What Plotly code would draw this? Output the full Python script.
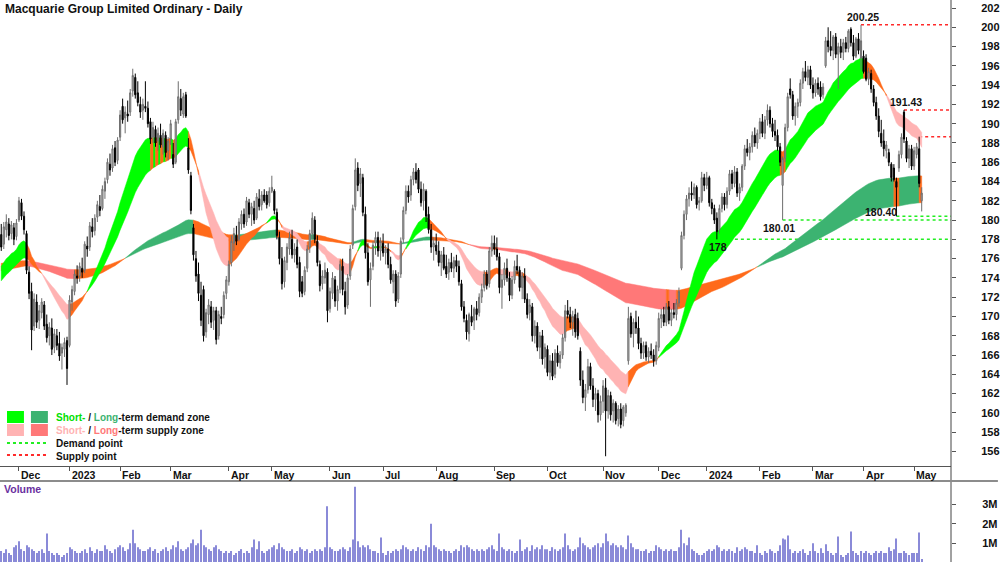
import pandas as pd
import plotly.graph_objects as go

# ---------------------------------------------------------------- data
HOLIDAYS = ["2022-12-26", "2022-12-27", "2023-01-02", "2023-01-26", "2023-04-07",
            "2023-04-10", "2023-04-25", "2023-06-12", "2023-12-25", "2023-12-26",
            "2024-01-01", "2024-01-26", "2024-03-29", "2024-04-01", "2024-04-25"]
DATES = [d for d in pd.bdate_range("2022-11-22", "2024-05-06")
         if d.strftime("%Y-%m-%d") not in HOLIDAYS]

# (open, high, low, close) per trading day
NOV22 = [(178.5,179.6,176.8,177.2),(177.5,179.8,177.0,179.3),(179.0,180.6,178.2,179.8),(179.6,180.2,177.9,178.4),
         (178.6,179.9,178.0,179.5),(179.2,179.7,177.4,178.0),(178.3,180.1,177.9,179.7)]
DEC22 = [(180.0,182.4,179.8,182.0),(181.8,182.2,180.0,180.4),(180.4,180.9,178.5,179.0),(178.6,178.9,174.4,174.8),
         (174.6,175.2,171.8,172.4),(172.6,173.5,166.5,168.6),(169.0,172.4,168.5,171.8),(171.5,172.3,168.8,169.4),
         (169.6,171.2,168.7,170.6),(170.4,171.9,169.8,171.5),(171.2,171.6,168.6,169.0),(169.2,170.2,167.3,167.8),
         (168.0,169.4,167.0,168.9),(168.8,169.8,166.0,166.6),(166.8,168.7,166.2,168.2),(168.0,168.7,166.5,167.0),
         (167.2,168.4,165.4,165.9),(166.2,167.2,164.5,166.8),(166.6,167.8,165.8,167.3),(167.5,167.9,162.9,164.6)]
JAN23 = [(167.0,172.2,166.8,171.7),(171.5,173.2,170.6,172.8),(172.6,174.8,172.2,174.4),(174.2,175.3,173.4,174.0),
         (174.2,175.6,173.6,175.2),(175.0,176.1,174.0,174.6),(174.8,177.8,174.5,177.5),(177.3,178.3,176.2,177.0),
         (177.2,179.8,176.8,179.4),(179.3,180.2,178.2,178.8),(178.9,180.6,178.4,180.2),(180.3,182.0,179.8,181.6),
         (181.4,182.6,180.4,181.0),(181.2,183.6,181.0,183.2),(183.0,184.4,182.2,184.0),(184.2,186.4,183.8,186.0),
         (185.8,186.9,184.6,185.2),(185.4,187.8,185.0,187.4),(187.5,188.2,185.6,186.0),(186.2,188.6,185.8,188.3)]
FEB23 = [(188.6,191.4,188.2,190.9),(191.8,192.6,190.0,190.4),(190.6,191.8,189.0,191.2),(191.0,192.4,190.2,190.8),
         (191.2,193.6,190.8,193.2),(193.4,195.7,192.8,195.0),(194.8,195.2,192.6,193.0),(193.2,194.4,191.8,192.2),
         (192.0,192.8,190.6,191.2),(191.4,192.6,190.4,192.0),(191.8,194.4,191.2,191.6),(191.6,192.3,189.6,190.0),
         (190.2,190.6,187.9,188.4),(188.6,190.2,188.0,189.6),(189.4,189.8,187.6,188.0),(188.2,189.6,187.2,189.0),
         (188.8,190.0,187.5,187.8),(187.6,189.4,186.8,189.0),(188.8,189.2,186.5,187.0),(187.2,188.6,186.2,188.2)]
MAR23 = [(188.4,190.4,187.8,190.0),(186.8,188.0,185.4,185.8),(186.0,190.5,185.8,190.2),(190.4,194.4,190.0,192.8),
         (192.6,193.6,190.8,191.4),(191.0,193.2,190.6,192.8),(193.0,193.3,190.6,190.8),(187.5,188.5,184.8,185.2),
         (184.6,185.0,180.6,181.0),(179.2,179.6,175.8,176.4),(176.0,176.8,173.6,174.2),(174.4,175.6,171.6,172.4),
         (172.2,173.6,169.0,169.6),(172.8,173.2,167.4,168.0),(168.4,170.8,167.8,170.4),(170.2,171.8,169.2,171.2),
         (171.0,171.6,168.8,169.4),(169.6,171.0,168.6,170.6),(170.6,171.0,167.1,167.6),(168.0,170.6,167.6,170.2),
         (170.0,171.0,169.2,169.8),(170.2,172.6,169.8,172.2),(172.4,174.2,171.8,173.8)]
APR23 = [(173.6,175.8,173.2,175.4),(175.6,178.4,175.2,177.8),(177.6,179.2,176.8,178.6),(178.4,179.4,177.4,177.8),
         (178.0,180.2,177.8,179.8),(179.6,181.0,179.0,180.6),(180.6,181.2,179.2,179.6),(179.8,182.4,179.4,182.0),
         (181.8,182.2,180.2,180.6),(180.6,181.8,179.4,181.4),(181.2,182.0,179.6,180.0),(180.2,182.8,180.0,182.4),
         (182.2,183.2,181.0,181.4),(181.6,183.0,181.0,182.6),(182.6,183.2,181.8,182.0),(182.6,183.0,181.2,181.6),
         (181.8,183.4,181.4,183.0)]
MAY23 = [(183.0,184.6,182.8,183.4),(183.0,183.2,180.6,181.0),(180.8,181.2,178.0,178.4),(178.2,178.8,175.4,176.0),
         (176.0,177.2,172.8,173.4),(173.6,176.2,173.0,175.8),(175.6,177.6,174.8,177.2),(177.0,178.8,176.4,178.2),
         (178.0,179.0,176.0,176.4),(176.4,177.6,175.6,177.0),(177.2,178.0,175.0,175.4),(175.6,176.2,172.0,172.6),
         (173.6,174.2,172.0,172.4),(172.6,175.2,172.2,174.8),(175.0,177.4,174.6,177.0),(177.2,179.0,176.6,178.6),
         (178.6,180.8,178.0,180.2),(180.0,180.4,177.6,178.0),(177.8,178.4,175.2,175.6),(175.4,175.8,172.6,173.2),
         (173.4,174.8,172.8,174.2),(174.0,175.6,173.4,174.8),(174.6,175.0,169.4,170.6)]
JUN23 = [(170.8,173.0,170.4,172.6),(172.4,174.6,171.8,174.0),(173.8,174.2,171.0,171.6),(171.6,173.2,170.6,172.8),
         (172.8,175.8,172.4,175.4),(175.2,176.0,172.2,172.8),(172.6,173.6,170.2,171.0),(171.2,174.4,170.8,174.0),
         (174.2,177.4,173.8,177.0),(177.4,181.6,177.0,181.2),(181.4,186.4,181.0,185.2),(185.4,186.0,183.0,183.6),
         (183.8,185.4,182.4,184.8),(184.4,184.8,180.4,180.8),(180.6,181.4,176.0,176.6),(176.6,177.6,173.2,173.6),
         (173.8,175.6,171.0,175.0),(175.2,177.8,174.8,177.4),(177.6,178.8,176.4,178.2),(178.2,178.8,176.2,176.8),
         (176.8,178.2,175.8,177.8)]
JUL23 = [(177.6,178.6,176.2,176.6),(176.6,177.4,175.4,177.0),(177.0,177.6,175.0,175.4),(175.4,176.2,173.4,173.8),
         (173.6,174.8,172.4,174.4),(174.4,174.8,171.0,171.6),(171.8,174.6,171.4,174.2),(174.4,178.2,174.0,177.8),
         (178.0,181.4,177.6,181.0),(181.0,183.6,180.6,183.0),(183.0,183.6,181.8,182.4),(182.6,184.6,182.0,184.2),
         (184.2,185.4,183.6,185.0),(185.0,185.9,183.8,184.2),(185.2,185.4,182.8,183.2),(183.2,184.0,181.4,181.8),
         (182.0,183.8,181.0,183.2),(183.0,183.2,179.8,180.4),(180.6,181.4,178.6,179.0),(179.0,179.6,176.6,177.2),
         (177.2,178.2,175.8,177.6)]
AUG23 = [(177.4,178.6,176.4,176.8),(176.8,177.8,175.2,175.6),(175.6,176.8,174.2,176.4),(176.4,177.2,174.8,175.0),
         (175.2,176.4,174.0,174.4),(174.6,176.0,173.8,175.6),(175.6,176.6,174.6,175.0),(175.0,176.2,174.0,175.8),
         (175.8,176.4,174.6,175.2),(175.2,175.8,173.2,173.6),(173.4,173.8,170.6,171.0),(171.0,171.6,169.4,169.8),
         (169.6,170.2,167.6,168.4),(168.2,170.4,167.4,170.2),(170.0,171.2,169.0,169.4),(169.6,171.0,168.6,170.8),
         (170.8,171.6,169.6,170.2),(170.4,172.4,170.0,172.0),(172.0,173.4,171.4,172.8),(173.0,174.8,172.6,174.4),
         (174.4,174.8,172.8,173.2),(173.4,177.2,173.0,176.8),(176.8,178.4,176.2,177.6)]
SEP23 = [(177.6,178.4,176.4,177.0),(177.0,178.2,175.8,176.2),(176.2,176.6,172.4,173.0),(173.0,174.4,170.8,173.8),
         (173.8,175.6,173.2,175.0),(175.0,176.0,173.6,174.0),(174.0,174.6,171.6,172.2),(172.2,174.2,171.8,173.8),
         (173.8,175.8,173.4,175.2),(175.2,176.4,174.4,174.8),(174.8,175.2,172.6,173.0),(173.0,174.6,171.8,174.2),
         (174.2,175.0,171.4,171.8),(171.8,172.4,169.8,170.2),(170.4,171.8,169.6,171.2),(171.0,171.4,167.4,168.0),
         (168.0,169.6,167.2,169.0),(169.0,169.4,166.4,166.8),(166.8,168.4,165.6,168.0),(168.0,168.6,165.0,165.6),
         (165.8,167.2,164.6,166.8)]
OCT23 = [(166.6,167.0,163.8,164.2),(164.2,166.0,163.4,165.4),(165.4,166.2,163.4,163.8),(164.0,166.6,163.6,166.2),
         (166.2,167.0,164.8,165.2),(165.2,166.4,164.6,166.0),(166.0,168.2,165.6,167.8),(167.8,171.2,167.4,170.6),
         (170.6,171.7,169.8,170.2),(170.2,171.0,168.8,169.4),(169.4,170.6,168.0,170.0),(170.2,170.8,167.8,168.4),
         (169.8,170.4,167.6,168.0),(166.4,166.8,162.8,163.4),(163.4,164.4,161.0,161.6),(161.6,163.0,160.2,162.4),
         (162.4,165.6,162.0,164.8),(164.8,165.2,162.4,162.8),(162.8,163.6,160.6,161.4),(161.4,162.6,160.2,162.0),
         (162.0,162.4,159.0,159.8),(159.8,161.8,159.2,161.2)]
NOV23 = [(161.2,163.4,160.0,162.8),(162.6,163.6,155.5,160.2),(160.2,162.4,159.4,161.8),(161.8,162.2,159.2,159.8),
         (160.2,161.4,159.0,161.0),(161.0,161.2,158.8,159.2),(159.4,160.8,158.6,160.4),(160.4,161.0,158.4,158.8),
         (159.2,160.8,158.6,160.6),(160.0,161.0,159.6,160.8),(165.4,171.0,165.0,169.8),(170.0,170.4,167.8,168.2),
         (168.2,169.8,166.8,169.4),(169.4,170.6,168.2,168.8),(168.8,170.0,166.6,167.2),(167.2,167.8,165.6,166.2),
         (166.2,167.4,165.6,167.0),(167.0,167.4,165.4,165.8),(165.8,166.8,165.2,166.4),(166.4,167.2,165.6,166.0),
         (166.0,166.6,164.8,165.4),(165.4,167.4,165.0,167.0)]
DEC23 = [(166.8,170.4,166.4,169.8),(169.8,170.8,168.8,170.2),(170.2,171.0,169.0,169.4),(169.4,171.4,169.0,171.0),
         (171.0,171.6,169.2,169.6),(169.6,170.8,169.0,170.4),(170.4,171.4,169.8,170.2),(170.2,171.8,169.6,171.4),
         (171.4,173.0,171.0,172.6),(175.0,178.8,174.8,178.4),(178.4,181.0,178.0,180.6),(180.6,182.6,180.0,182.2),
         (182.2,183.4,181.4,182.8),(182.8,184.0,182.0,182.6),(182.6,183.8,182.2,183.4),(183.4,183.6,181.2,181.6),
         (181.8,182.4,181.0,182.0),(182.0,185.0,181.8,184.4),(184.4,184.8,183.0,183.6)]
JAN24 = [(183.6,185.0,183.2,184.4),(184.4,184.6,181.4,181.8),(181.8,182.2,180.6,181.2),(181.2,181.6,179.6,180.0),
         (180.2,180.8,178.0,178.8),(179.0,181.6,178.6,181.2),(181.2,182.8,180.8,182.4),(182.4,182.8,181.0,181.6),
         (181.6,183.4,181.2,183.0),(183.0,185.2,182.6,184.8),(184.8,185.2,183.2,183.8),(183.8,185.6,183.4,185.0),
         (185.0,185.4,182.4,182.8),(182.8,183.8,182.0,183.4),(183.4,185.8,183.0,185.6),(185.6,187.8,185.2,187.4),
         (187.4,188.4,186.6,187.0),(187.0,188.0,186.2,187.6),(187.6,189.2,187.0,188.8),(188.8,189.6,187.6,188.0),
         (188.0,189.4,187.4,189.0)]
FEB24 = [(189.0,190.6,188.4,190.2),(190.2,191.0,188.6,189.0),(189.0,190.8,188.4,190.4),(190.4,192.0,189.8,191.4),
         (191.4,191.8,189.6,190.0),(190.0,190.6,188.6,189.2),(189.2,190.4,188.2,188.8),(188.8,189.4,187.2,187.6),
         (187.6,188.0,185.6,186.0),(183.6,186.6,180.01,186.4),(186.4,190.0,186.0,189.6),(189.6,193.2,189.2,192.8),
         (193.6,194.7,192.6,193.0),(193.0,193.4,190.4,190.8),(190.8,192.2,189.8,191.8),(191.8,192.6,190.6,192.2),
         (192.2,194.6,191.8,194.2),(194.2,195.8,193.6,195.4),(195.4,196.5,194.4,194.8),(194.8,196.0,194.0,195.6),
         (195.6,196.0,193.6,194.0)]
MAR24 = [(194.0,194.8,192.6,193.2),(193.2,194.6,192.8,194.2),(194.2,194.8,193.0,193.6),(193.8,194.4,192.4,192.8),
         (193.0,194.2,192.6,193.8),(196.0,199.0,195.8,198.6),(198.6,200.0,197.4,198.0),(198.0,199.6,197.0,197.6),
         (197.6,199.2,196.6,199.0),(199.0,199.4,196.8,197.2),(197.2,198.4,193.6,198.0),(198.0,198.8,196.8,197.4),
         (197.4,198.8,196.6,198.4),(198.4,199.0,197.4,197.8),(197.8,199.8,197.4,199.6),(199.8,200.0,198.0,198.4),
         (198.4,199.2,196.6,197.0),(197.0,199.0,196.8,198.8),(198.8,199.4,197.2,197.6),(196.8,200.25,195.6,198.6)]
APR24 = [(197.0,197.6,195.2,195.4),(196.8,197.2,194.4,194.6),(194.6,195.8,194.0,195.4),(195.2,195.6,193.2,193.6),
         (193.6,194.0,191.8,192.2),(192.2,192.8,190.4,190.8),(190.8,191.6,188.6,189.2),(189.0,190.4,187.6,188.0),
         (188.2,189.4,186.6,187.4),(187.2,188.2,186.4,187.8),(187.0,187.4,185.6,186.0),(185.8,186.0,184.0,184.4),
         (185.4,185.8,184.0,184.2),(184.0,184.4,180.40,183.4),(185.4,187.2,185.0,186.8),(186.8,189.0,186.4,188.6),
         (191.2,191.43,188.0,188.4),(188.2,188.6,186.0,186.4),(186.4,187.8,185.4,187.4),(187.4,187.8,185.2,185.6)]
MAY24 = [(185.6,187.6,185.2,187.2),(186.8,188.0,186.4,187.6),(187.4,188.65,183.4,183.8),(182.0,183.4,180.9,182.8)]

# volume, millions of shares
VOL_NOV22 = [0.6,0.5,0.7,0.5,0.4,0.8,0.9]
VOL_DEC22 = [1.1,0.7,0.6,0.9,0.8,0.7,0.6,0.5,0.6,0.7,0.5,1.5,0.6,0.5,0.4,0.5,0.4,0.3,0.4,0.5]
VOL_JAN23 = [0.8,0.7,0.6,0.5,0.5,0.6,0.7,0.5,0.8,0.6,0.5,0.7,0.6,0.6,0.9,0.7,0.6,0.5,0.7,0.8]
VOL_FEB23 = [0.9,0.8,0.6,0.7,1.0,1.7,1.0,0.8,0.7,0.6,0.6,0.7,0.8,0.6,0.7,0.5,0.6,0.7,0.8,0.6]
VOL_MAR23 = [0.7,0.9,0.8,1.1,0.7,0.6,0.7,0.8,1.0,1.2,0.9,1.0,1.7,0.9,0.8,0.7,0.6,0.8,0.9,0.7,0.6,0.5,0.6]
VOL_APR23 = [0.5,0.6,0.4,0.5,0.6,0.7,0.5,0.6,0.5,0.8,1.2,0.7,1.1,0.6,0.5,0.6,0.7]
VOL_MAY23 = [0.8,0.9,0.7,1.0,0.8,0.7,0.6,0.6,0.7,0.5,0.6,0.8,0.7,0.6,0.7,0.5,0.6,0.7,0.6,0.7,0.6,0.8,2.9]
VOL_JUN23 = [0.8,0.7,0.6,0.6,0.7,0.8,0.7,0.6,0.8,1.2,3.9,1.1,0.8,0.9,0.8,0.9,0.7,0.6,0.6,0.5,1.3]
VOL_JUL23 = [0.5,0.4,0.6,0.5,0.6,0.7,0.6,0.7,0.9,0.8,0.7,0.6,0.7,0.6,0.8,0.7,0.6,0.9,0.8,2.0,0.9]
VOL_AUG23 = [0.8,0.7,0.6,0.7,0.6,0.6,0.5,0.6,0.7,0.6,0.9,0.8,0.9,0.8,0.7,0.6,0.7,0.6,0.7,0.6,0.7,0.8,0.9]
VOL_SEP23 = [0.7,0.6,1.5,0.8,0.7,0.6,0.7,0.6,0.5,0.6,1.2,0.6,0.7,0.8,0.6,0.9,0.7,0.8,0.7,0.9,0.7]
VOL_OCT23 = [0.7,0.6,0.8,0.7,0.6,0.7,0.8,1.5,0.9,0.7,0.6,0.7,0.8,1.3,1.0,0.9,0.8,0.7,0.8,0.9,1.0,0.8]
VOL_NOV23 = [1.0,1.5,1.1,0.9,1.0,0.9,0.8,0.9,0.8,0.7,1.4,1.0,0.8,0.7,0.7,0.6,0.6,0.7,0.5,0.6,0.6,0.9]
VOL_DEC23 = [0.8,0.7,0.6,0.7,0.6,0.7,0.6,0.6,0.8,1.7,1.0,0.9,1.3,0.7,0.6,0.5,0.4,0.4,0.5]
VOL_JAN24 = [0.6,0.7,0.6,0.7,0.9,0.8,0.6,0.7,0.6,0.7,0.6,0.5,0.8,0.6,0.7,0.8,0.7,0.6,0.6,0.5,0.9]
VOL_FEB24 = [0.5,0.4,0.6,0.5,0.7,0.6,0.5,0.6,0.9,1.25,1.2,1.4,0.7,0.5,0.6,0.5,0.6,0.7,0.5,0.4,0.6]
VOL_MAR24 = [1.0,0.6,0.5,0.75,0.5,0.95,0.6,0.5,0.4,0.5,1.35,0.4,0.3,0.4,0.5,1.6,0.6,0.5,0.4,0.6]
VOL_APR24 = [0.5,0.6,0.5,0.4,0.5,0.6,0.5,0.6,0.5,0.5,0.8,0.6,0.7,1.25,0.5,0.5,0.6,0.5,0.4,0.5]
VOL_MAY24 = [0.5,0.5,1.55,0.2]

MONTH_LABELS = ["Dec", "2023", "Feb", "Mar", "Apr", "May", "Jun", "Jul", "Aug", "Sep",
                "Oct", "Nov", "Dec", "2024", "Feb", "Mar", "Apr", "May"]

# demand / supply points: (date, level, label)
DEMAND_POINTS = [("2024-01-08", 178.00, "178"), ("2024-02-14", 180.01, "180.01"),
                 ("2024-04-19", 180.40, "180.40")]
SUPPLY_POINTS = [("2024-03-28", 200.25, "200.25"), ("2024-04-24", 191.43, "191.43"),
                 ("2024-05-03", 188.65, "")]

SHORT_FAST, SHORT_SLOW = 20, 35
LONG_FAST, LONG_SLOW = 150, 250
SEED_SHORT_FAST, SEED_SHORT_SLOW = 175.0, 173.5
SEED_LONG_FAST, SEED_LONG_SLOW = 174.7, 175.5

# ---------------------------------------------------------------- assemble
CANDLES = (NOV22 + DEC22 + JAN23 + FEB23 + MAR23 + APR23 + MAY23 + JUN23 + JUL23 + AUG23 +
           SEP23 + OCT23 + NOV23 + DEC23 + JAN24 + FEB24 + MAR24 + APR24 + MAY24)
VOLUME = (VOL_NOV22 + VOL_DEC22 + VOL_JAN23 + VOL_FEB23 + VOL_MAR23 + VOL_APR23 + VOL_MAY23 +
          VOL_JUN23 + VOL_JUL23 + VOL_AUG23 + VOL_SEP23 + VOL_OCT23 + VOL_NOV23 + VOL_DEC23 +
          VOL_JAN24 + VOL_FEB24 + VOL_MAR24 + VOL_APR24 + VOL_MAY24)
N = len(DATES)
if len(CANDLES) != N or len(VOLUME) != N:
    raise SystemExit(f"length mismatch dates={N} candles={len(CANDLES)} volume={len(VOLUME)}")

OPEN = [c[0] for c in CANDLES]
HIGH = [c[1] for c in CANDLES]
LOW = [c[2] for c in CANDLES]
CLOSE = [c[3] for c in CANDLES]
IDX = list(range(N))
DATE_POS = {d.strftime("%Y-%m-%d"): i for i, d in enumerate(DATES)}
MONTH_POS = [i for i in range(1, N) if DATES[i].month != DATES[i - 1].month]


def ema(values, period, seed):
    a = 2.0 / (period + 1)
    out, e = [], seed
    for v in values:
        e = e + a * (v - e)
        out.append(e)
    return out


s_fast = ema(CLOSE, SHORT_FAST, SEED_SHORT_FAST)
s_slow = ema(CLOSE, SHORT_SLOW, SEED_SHORT_SLOW)
l_fast = ema(CLOSE, LONG_FAST, SEED_LONG_FAST)
l_slow = ema(CLOSE, LONG_SLOW, SEED_LONG_SLOW)

ORANGE = "#ff6a1a"
SHORT_COLORS = {"D": "#00ff00", "S": "#ffb3b3", "O": ORANGE}
LONG_COLORS = {"D": "#3cb371", "S": "#ff7878", "O": ORANGE}


def band_traces(fast, slow, seed_fast, colors):
    states = []
    for i in range(N):
        prev = fast[i - 1] if i > 0 else seed_fast
        rising = fast[i] > prev
        if fast[i] > slow[i] and rising:
            states.append("D")
        elif fast[i] < slow[i] and not rising:
            states.append("S")
        else:
            states.append("O")
    runs, start = [], 0
    for i in range(1, N + 1):
        if i == N or states[i] != states[start]:
            runs.append((start, i - 1, states[start]))
            start = i
    polys = {k: ([], []) for k in colors}
    for a, b, st in runs:
        e = min(b + 1, N - 1)
        xs = IDX[a:e + 1] + IDX[a:e + 1][::-1]
        ys = fast[a:e + 1] + slow[a:e + 1][::-1]
        px_, py_ = polys[st]
        px_.extend(xs + [xs[0], None])
        py_.extend(ys + [ys[0], None])
    out = []
    for k, (px_, py_) in polys.items():
        if px_:
            out.append(go.Scatter(x=px_, y=py_, mode="lines", fill="toself", fillcolor=colors[k],
                                  line=dict(color=colors[k], width=0.5), hoverinfo="skip",
                                  xaxis="x", yaxis="y"))
    return out


# ---------------------------------------------------------------- figure
FONT = "Liberation Sans Narrow, Arial Narrow, Liberation Sans, Arial, sans-serif"
W, H, PLOT_W = 1000, 562, 953
X0 = -0.497
X1 = X0 + PLOT_W / 2.534
PRICE_RANGE = [154.49, 202.83]
VOL_RANGE = [0.04, 4.195]
PRICE_DOM = [(H - 466) / H, 1.0]
VOL_DOM = [0.0, (H - 481) / H]


def px(x):
    return x / PLOT_W


def py(y):
    return 1 - y / H


fig = go.Figure()

# demand / supply point lines (below the zones)
for d, lvl, _ in DEMAND_POINTS:
    fig.add_trace(go.Scatter(x=[DATE_POS[d], X1], y=[lvl, lvl], mode="lines", hoverinfo="skip",
                             line=dict(color="#22ee22", width=1.5, dash="dot"), xaxis="x", yaxis="y"))
for d, lvl, _ in SUPPLY_POINTS:
    fig.add_trace(go.Scatter(x=[DATE_POS[d], X1], y=[lvl, lvl], mode="lines", hoverinfo="skip",
                             line=dict(color="#ff2a2a", width=1.5, dash="dot"), xaxis="x", yaxis="y"))

for t in band_traces(l_fast, l_slow, SEED_LONG_FAST, LONG_COLORS):
    fig.add_trace(t)
for t in band_traces(s_fast, s_slow, SEED_SHORT_FAST, SHORT_COLORS):
    fig.add_trace(t)

fig.add_trace(go.Candlestick(
    x=IDX, open=OPEN, high=HIGH, low=LOW, close=CLOSE, xaxis="x", yaxis="y3",
    increasing=dict(line=dict(color="#6e6e6e", width=1), fillcolor="#c4c4c4"),
    decreasing=dict(line=dict(color="#000000", width=1), fillcolor="#000000"),
    whiskerwidth=0, hoverinfo="skip"))

fig.add_trace(go.Bar(x=IDX, y=VOLUME, marker=dict(color="#8a8ad8", line=dict(width=0)),
                     width=0.42, xaxis="x2", yaxis="y2", hoverinfo="skip"))

annotations = [
    dict(text="<b>Macquarie Group Limited Ordinary - Daily</b>", xref="paper", yref="paper",
         x=px(3), y=py(9), xanchor="left", yanchor="middle", showarrow=False,
         font=dict(family=FONT, size=12, color="#111")),
    dict(text="<b>Volume</b>", xref="paper", yref="paper", x=px(2), y=py(489),
         xanchor="left", yanchor="middle", showarrow=False,
         font=dict(family=FONT, size=10.5, color="#6a2fa0")),
]
for lab, pos in zip(MONTH_LABELS, MONTH_POS):
    annotations.append(dict(text=f"<b>{lab}</b>", xref="x", yref="paper", x=pos, y=py(475),
                            xanchor="left", yanchor="middle", showarrow=False, xshift=0,
                            font=dict(family=FONT, size=10.5, color="#111")))

# point labels
lab_font = dict(family=FONT, size=10.5, color="#111")
sup = {lab: (DATE_POS[d], lvl) for d, lvl, lab in SUPPLY_POINTS if lab}
dem = {lab: (DATE_POS[d], lvl) for d, lvl, lab in DEMAND_POINTS}
for lab, (i, lvl) in sup.items():
    annotations.append(dict(text=f"<b>{lab}</b>", x=i, y=lvl, xref="x", yref="y", showarrow=False,
                            xanchor="center", yanchor="bottom", yshift=0, xshift=2, font=lab_font))
annotations.append(dict(text="<b>178</b>", x=dem["178"][0], y=dem["178"][1], xref="x", yref="y",
                        showarrow=False, xanchor="center", yanchor="top", xshift=1, font=lab_font))
annotations.append(dict(text="<b>180.01</b>", x=dem["180.01"][0], y=dem["180.01"][1], xref="x",
                        yref="y", showarrow=False, xanchor="center", yanchor="top", xshift=-4,
                        font=lab_font))
annotations.append(dict(text="<b>180.40</b>", x=dem["180.40"][0], y=dem["180.40"][1], xref="x",
                        yref="y", showarrow=False, xanchor="right", yanchor="bottom", xshift=3,
                        yshift=-4, font=lab_font))

# legend
leg_font = dict(family=FONT, size=10, color="#111")
leg_rows = [
    ("<b><span style='color:#00e000'>Short-</span> / <span style='color:#3cb371'>Long</span>"
     "-term demand zone</b>", 417),
    ("<b><span style='color:#ffb3b3'>Short-</span> / <span style='color:#ff7878'>Long</span>"
     "-term supply zone</b>", 430),
    ("<b>Demand point</b>", 443),
    ("<b>Supply point</b>", 456),
]
for txt, yy in leg_rows:
    annotations.append(dict(text=txt, xref="paper", yref="paper", x=px(54), y=py(yy),
                            xanchor="left", yanchor="middle", showarrow=False, font=leg_font))

shapes = [
    dict(type="rect", xref="paper", yref="paper", x0=px(7), x1=px(24), y0=py(423), y1=py(411),
         fillcolor="#00ff00", line=dict(width=0)),
    dict(type="rect", xref="paper", yref="paper", x0=px(31), x1=px(48), y0=py(423), y1=py(411),
         fillcolor="#3cb371", line=dict(width=0)),
    dict(type="rect", xref="paper", yref="paper", x0=px(7), x1=px(24), y0=py(436), y1=py(424),
         fillcolor="#ffb3b3", line=dict(width=0)),
    dict(type="rect", xref="paper", yref="paper", x0=px(31), x1=px(48), y0=py(436), y1=py(424),
         fillcolor="#ff7878", line=dict(width=0)),
    dict(type="line", xref="paper", yref="paper", x0=px(7), x1=px(48), y0=py(443), y1=py(443),
         line=dict(color="#22ee22", width=2, dash="dot")),
    dict(type="line", xref="paper", yref="paper", x0=px(7), x1=px(48), y0=py(455), y1=py(455),
         line=dict(color="#ff2a2a", width=2, dash="dot")),
    # pane frame lines
    dict(type="line", xref="paper", yref="paper", x0=1, x1=1, y0=0, y1=1,
         line=dict(color="#444", width=1)),
    dict(type="line", xref="paper", yref="paper", x0=0, x1=W / PLOT_W, y0=py(481), y1=py(481),
         line=dict(color="#8c8c8c", width=2)),
]

fig.update_layout(
    width=W, height=H, margin=dict(l=0, r=W - PLOT_W, t=0, b=0),
    paper_bgcolor="white", plot_bgcolor="white", showlegend=False,
    boxgap=0.35, annotations=annotations, shapes=shapes,
    xaxis=dict(domain=[0, 1], range=[X0, X1], anchor="y", showgrid=False, zeroline=False,
               tickvals=MONTH_POS, ticks="outside", ticklen=4, tickcolor="#555",
               showticklabels=False, showline=True, linecolor="#555", linewidth=1,
               rangeslider=dict(visible=False)),
    xaxis2=dict(domain=[0, 1], range=[X0, X1], anchor="y2", showgrid=False, zeroline=False,
                showticklabels=False, ticks="", showline=False),
    yaxis=dict(domain=PRICE_DOM, range=PRICE_RANGE, side="right", anchor="x",
               tickvals=list(range(156, 203, 2)), ticks="outside", ticklen=4, tickcolor="#555",
               showgrid=False, zeroline=False, showline=False, ticklabelstandoff=23,
               tickfont=dict(family=FONT, size=11, color="#111", weight="bold")),
    yaxis3=dict(domain=PRICE_DOM, range=PRICE_RANGE, overlaying="y", side="right", anchor="x",
                visible=False, showgrid=False, zeroline=False),
    yaxis2=dict(domain=VOL_DOM, range=VOL_RANGE, side="right", anchor="x2",
                tickvals=[1, 2, 3], ticktext=["1M", "2M", "3M"], ticks="outside", ticklen=4,
                tickcolor="#555", showgrid=False, zeroline=False, showline=False,
                ticklabelstandoff=24,
                tickfont=dict(family=FONT, size=11, color="#111", weight="bold")),
)

fig.write_html("out.html")
